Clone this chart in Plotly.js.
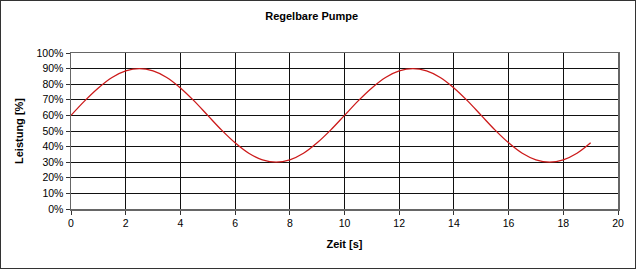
<!DOCTYPE html>
<html>
<head>
<meta charset="utf-8">
<script src="https://cdn.plot.ly/plotly-3.0.1.min.js"></script>
<style>
html,body{margin:0;padding:0;background:#fff;}
#frame{position:absolute;left:0;top:0;width:634px;height:267px;border:1px solid #333;}
#chart{width:634px;height:267px;}
</style>
</head>
<body>
<div id="frame"><div id="chart"></div></div>
<script>
// Zeit [s]
var zeit = [0,0.5,1,1.5,2,2.5,3,3.5,4,4.5,5,5.5,6,6.5,7,7.5,8,8.5,9,9.5,
            10,10.5,11,11.5,12,12.5,13,13.5,14,14.5,15,15.5,16,16.5,17,17.5,18,18.5,19];
// Leistung [%]
var leistung = [60,69.3,77.6,84.3,88.5,90,88.5,84.3,77.6,69.3,60,50.7,42.4,35.7,31.5,30,31.5,35.7,42.4,50.7,
                60,69.3,77.6,84.3,88.5,90,88.5,84.3,77.6,69.3,60,50.7,42.4,35.7,31.5,30,31.5,35.7,42.4];
var titleText = 'Regelbare Pumpe';
var xTitle = 'Zeit [s]';
var yTitle = 'Leistung [%]';

var font = 'Arial, "Liberation Sans", sans-serif';

Plotly.newPlot('chart', [{
  x: zeit, y: leistung, type: 'scatter', mode: 'lines',
  line: {color: '#cc1a1a', width: 1.3, shape: 'spline'},
  hoverinfo: 'skip'
}], {
  width: 634, height: 267,
  margin: {l: 70, r: 17, t: 52, b: 59},
  paper_bgcolor: '#fff', plot_bgcolor: '#fff',
  showlegend: false,
  font: {family: font, color: '#000', size: 10.5},
  title: {text: '<b>' + titleText + '</b>', x: 0.49, xanchor: 'center', y: 0.945, yanchor: 'middle',
          font: {family: font, size: 11, color: '#000'}},
  xaxis: {
    range: [0, 20], dtick: 2, tick0: 0,
    showgrid: true, gridcolor: '#111', gridwidth: 1,
    showline: true, linecolor: '#666', linewidth: 1.5, mirror: true,
    ticks: 'outside', ticklen: 4, tickcolor: '#333',
    zeroline: false,
    tickfont: {family: font, size: 10.5, color: '#000'},
    title: {text: '<b>' + xTitle + '</b>', standoff: 12, font: {family: font, size: 11, color: '#000'}}
  },
  yaxis: {
    range: [0, 100], dtick: 10, tick0: 0, ticksuffix: '%',
    showgrid: true, gridcolor: '#111', gridwidth: 1,
    showline: true, linecolor: '#666', linewidth: 1.5, mirror: true,
    ticks: 'outside', ticklen: 4, tickcolor: '#333',
    zeroline: false,
    tickfont: {family: font, size: 10.5, color: '#000'},
    title: {text: '<b>' + yTitle + '</b>', standoff: 10, font: {family: font, size: 11, color: '#000'}}
  }
}, {displayModeBar: false, staticPlot: true});
</script>
</body>
</html>
